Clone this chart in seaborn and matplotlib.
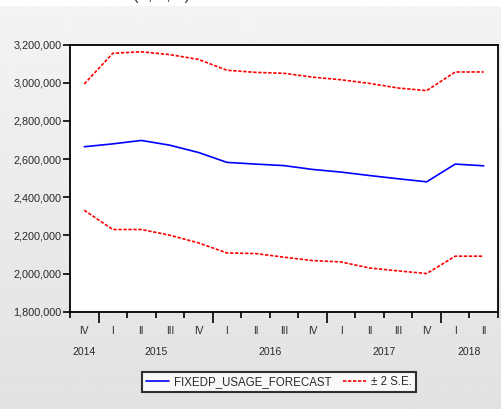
import numpy as np
import pandas as pd
import matplotlib
matplotlib.use("Agg")
import matplotlib.pyplot as plt
import seaborn as sns
from matplotlib.lines import Line2D
from matplotlib.transforms import blended_transform_factory

# Quarterly forecast, 2014Q4 .. 2018Q2
quarters = ["IV", "I", "II", "III", "IV", "I", "II", "III", "IV",
            "I", "II", "III", "IV", "I", "II"]
years = ["2014", "2015", "2016", "2017", "2018"]
quarters_per_year = [1, 4, 4, 4, 2]
forecast = [2665000, 2680000, 2698000, 2673000, 2635000, 2583000, 2574000,
            2566000, 2546000, 2532000, 2514000, 2497000, 2481000, 2574000,
            2565000]
upper = [2994000, 3155000, 3163000, 3148000, 3123000, 3066000, 3055000,
         3050000, 3030000, 3016000, 2997000, 2973000, 2959000, 3057000,
         3057000]
lower = [2332000, 2231000, 2231000, 2201000, 2161000, 2108000, 2105000,
         2086000, 2068000, 2061000, 2029000, 2014000, 2000000, 2091000,
         2091000]
yticks = [1800000, 2000000, 2200000, 2400000, 2600000, 2800000, 3000000,
          3200000]
series_name = "FIXEDP_USAGE_FORECAST"
band_name = "\u00b1 2 S.E."

sns.set_theme(style="white")
plt.rcParams["font.family"] = ["Liberation Sans", "DejaVu Sans"]

pos = np.arange(len(quarters))
df = pd.concat([
    pd.DataFrame({"t": pos, "value": forecast, "kind": series_name, "band": "mid"}),
    pd.DataFrame({"t": pos, "value": upper, "kind": band_name, "band": "upper"}),
    pd.DataFrame({"t": pos, "value": lower, "kind": band_name, "band": "lower"}),
])

W, H = 502, 409
fig = plt.figure(figsize=(W / 100, H / 100), dpi=100)

# Soft grey window background with a white strip on top
bg = fig.add_axes([0, 0, 1, 1], zorder=-10)
grad = np.linspace(0.955, 0.885, 256).reshape(-1, 1)
bg.imshow(grad, cmap="gray", vmin=0, vmax=1, aspect="auto",
          extent=[0, 1, 0, 1 - 5 / H])
bg.axhspan(1 - 5 / H, 1, color="white")
bg.set_xlim(0, 1)
bg.set_ylim(0, 1)
bg.axis("off")
fig.text(133 / W, 1 + 0.5 / H, "(1, 1, 1)", fontsize=12, va="baseline",
         ha="left", color="#333333")

ax = fig.add_axes([70 / W, 1 - 311.7 / H, 428 / W, 267.0 / H])
ax.set_facecolor("white")

sns.lineplot(data=df, x="t", y="value", hue="kind", style="kind",
             units="band", estimator=None, ax=ax, legend=False,
             palette={series_name: "#0000ff", band_name: "#ff0000"},
             dashes={series_name: "", band_name: (2, 1)},
             linewidth=1.2)

ax.set_xlim(-0.5, len(quarters) - 0.5)
ax.set_ylim(yticks[0], yticks[-1])
ax.set_xlabel("")
ax.set_ylabel("")

ax.set_yticks(yticks)
ax.set_yticklabels([f"{v:,}" for v in yticks], fontsize=7.8, color="#2a2a2a")
ax.tick_params(axis="y", direction="out", length=5, width=1.2, pad=1,
               left=True, colors="#000000", labelcolor="#2a2a2a")

# Quarter boundaries as ticks: longer at year boundaries
bounds = np.arange(len(quarters) + 1) - 0.5
year_starts = np.cumsum(quarters_per_year)[:-1] - 0.5
minor_b = [b for b in bounds if b not in set(year_starts)]
ax.set_xticks(year_starts)
ax.set_xticks(minor_b, minor=True)
ax.set_xticklabels([])
ax.tick_params(axis="x", which="major", direction="out", length=8, width=1.2,
               bottom=True, colors="#000000")
ax.tick_params(axis="x", which="minor", direction="out", length=4, width=1.2,
               bottom=True, colors="#000000")

for side in ["left", "bottom", "top", "right"]:
    ax.spines[side].set_color("#000000")
    ax.spines[side].set_linewidth(1.3)

tr = blended_transform_factory(ax.transData, ax.transAxes)
for x, q in zip(pos, quarters):
    ax.text(x, -19 / 267, q, transform=tr, ha="center", va="center",
            fontsize=7.3, color="#2a2a2a")
start = 0
for y, n in zip(years, quarters_per_year):
    cx = start + (n - 1) / 2
    ax.text(cx, -40 / 267, y, transform=tr, ha="center", va="center",
            fontsize=7.5, color="#2a2a2a")
    start += n

handles = [Line2D([], [], color="#0000ff", lw=1.2),
           Line2D([], [], color="#ff0000", lw=1.2, dashes=(2, 1))]
leg = fig.legend(handles, [series_name, band_name], loc="center",
                 bbox_to_anchor=(279 / W, 1 - 382 / H), ncol=2,
                 fontsize=8.3, frameon=True, fancybox=False,
                 edgecolor="#000000", handlelength=2.0, handletextpad=0.4,
                 columnspacing=1.0, borderpad=0.35, borderaxespad=0)
leg.get_frame().set_linewidth(1.5)
leg.get_frame().set_facecolor("white")
for t in leg.get_texts():
    t.set_color("#2a2a2a")

fig.savefig("out.png", dpi=100)
